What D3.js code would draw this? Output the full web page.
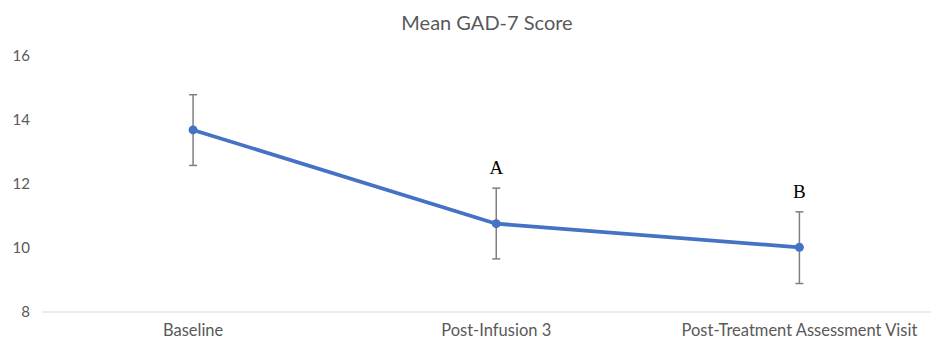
<!DOCTYPE html>
<html>
<head>
<meta charset="utf-8">
<script src="https://cdn.jsdelivr.net/npm/d3@7"></script>
<style>
  body { margin: 0; background: #fff; }
  text { font-family: Lato, "Open Sans", sans-serif; }
</style>
</head>
<body>
<div id="viz"></div>
<script>
const width = 931;
const height = 339;
const margin = {top: 56, right: -20, bottom: 27, left: 41.5};

// Data
const visits = ['Baseline', 'Post-Infusion 3', 'Post-Treatment Assessment Visit'];
const meanScore = [13.69, 10.76, 10.02];
const errLow = [12.58, 9.66, 8.89];
const errHigh = [14.79, 11.87, 11.13];
const letters = ['', 'A', 'B'];
const yTicks = [8, 10, 12, 14, 16];

const lineColor = '#4472C4';
const errColor = '#7f7f7f';
const textColor = '#595959';

const svg = d3.select('#viz')
  .append('svg')
  .attr('width', width)
  .attr('height', height);

const x = d3.scaleBand()
  .domain(visits)
  .range([margin.left, width - margin.right]);

const y = d3.scaleLinear()
  .domain([8, 16])
  .range([height - margin.bottom, margin.top]);

const cx = d => x(d) + x.bandwidth() / 2;

// Title
svg.append('text')
  .attr('x', 487)
  .attr('y', 30)
  .attr('text-anchor', 'middle')
  .attr('fill', textColor)
  .style('font-size', '20px')
  .text('Mean GAD-7 Score');

// Y axis labels (no gridlines)
svg.append('g')
  .selectAll('text')
  .data(yTicks)
  .join('text')
  .attr('x', 30)
  .attr('y', d => y(d))
  .attr('dy', '0.35em')
  .attr('text-anchor', 'end')
  .attr('fill', textColor)
  .style('font-size', '15px')
  .text(d => d);

// Horizontal axis line
svg.append('line')
  .attr('x1', margin.left + 1)
  .attr('x2', width)
  .attr('y1', y(8))
  .attr('y2', y(8))
  .attr('stroke', '#d9d9d9')
  .attr('stroke-width', 1);

// Category labels
svg.append('g')
  .selectAll('text')
  .data(visits)
  .join('text')
  .attr('x', d => cx(d))
  .attr('y', y(8) + 24)
  .attr('text-anchor', 'middle')
  .attr('fill', textColor)
  .style('font-size', '16.5px')
  .text(d => d);

// Error bars
const eb = svg.append('g')
  .attr('stroke', errColor)
  .attr('stroke-width', 1.5);

visits.forEach((v, i) => {
  eb.append('line')
    .attr('x1', cx(v)).attr('x2', cx(v))
    .attr('y1', y(errLow[i])).attr('y2', y(errHigh[i]));
  [errLow[i], errHigh[i]].forEach(val => {
    eb.append('line')
      .attr('x1', cx(v) - 4).attr('x2', cx(v) + 4)
      .attr('y1', y(val)).attr('y2', y(val));
  });
});

// Mean line
const line = d3.line()
  .x((d, i) => cx(visits[i]))
  .y(d => y(d));

svg.append('path')
  .datum(meanScore)
  .attr('d', line)
  .attr('fill', 'none')
  .attr('stroke', lineColor)
  .attr('stroke-width', 3.75)
  .attr('stroke-linejoin', 'round');

svg.append('g')
  .selectAll('circle')
  .data(meanScore)
  .join('circle')
  .attr('cx', (d, i) => cx(visits[i]))
  .attr('cy', d => y(d))
  .attr('r', 4.5)
  .attr('fill', lineColor);

// Significance letters
svg.append('g')
  .selectAll('text')
  .data(letters)
  .join('text')
  .attr('x', (d, i) => cx(visits[i]))
  .attr('y', (d, i) => y(errHigh[i]) - 14)
  .attr('text-anchor', 'middle')
  .attr('fill', '#000')
  .style('font-family', '"Liberation Serif", "DejaVu Serif", serif')
  .style('font-size', '19px')
  .text(d => d);
</script>
</body>
</html>
